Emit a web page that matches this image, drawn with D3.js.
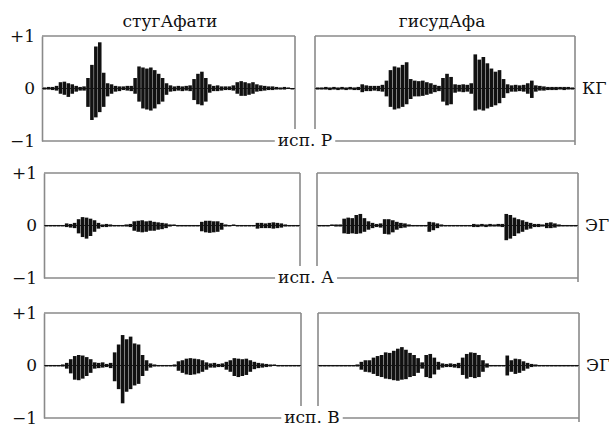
<!DOCTYPE html>
<html lang="ru">
<head>
<meta charset="utf-8">
<title>Осциллограммы</title>
<script src="https://d3js.org/d3.v7.min.js"></script>
<style>
  body { margin: 0; background: #fff; }
  text { font-family: "DejaVu Serif", "Liberation Serif", serif; fill: #111; }
</style>
</head>
<body>
<script>
// words, speakers, row tags
const words = ["стугАфати", "гисудАфа"];
const speakers = ["исп. Р", "исп. А", "исп. В"];
const tags = ["КГ", "ЭГ", "ЭГ"];
const tickVals = [-1, 0, 1];

// amplitude envelopes (upper / lower, as magnitudes), 64 samples per panel
const p1Up = [0.02,0.03,0.03,0.05,0.12,0.13,0.1,0.08,0.05,0.03,0.04,0.2,0.45,0.8,0.88,0.3,
  0.1,0.08,0.05,0.04,0.04,0.05,0.05,0.2,0.42,0.4,0.38,0.4,0.35,0.28,0.2,0.1,
  0.06,0.04,0.05,0.04,0.05,0.06,0.18,0.28,0.32,0.2,0.08,0.05,0.06,0.04,0.04,0.04,
  0.06,0.12,0.14,0.12,0.1,0.12,0.08,0.06,0.05,0.04,0.04,0.03,0.02,0.03,0.02,0.01];
const p1Dn = [0.02,0.02,0.03,0.04,0.1,0.12,0.16,0.1,0.06,0.04,0.04,0.35,0.6,0.55,0.45,0.35,
  0.15,0.1,0.06,0.05,0.03,0.04,0.05,0.1,0.25,0.38,0.4,0.42,0.38,0.3,0.25,0.12,
  0.06,0.05,0.04,0.05,0.04,0.05,0.22,0.3,0.32,0.25,0.08,0.05,0.05,0.04,0.03,0.03,
  0.04,0.1,0.14,0.14,0.12,0.1,0.06,0.05,0.04,0.03,0.03,0.02,0.02,0.02,0.01,0.01];

const p2Up = [0.02,0.02,0.03,0.02,0.03,0.02,0.03,0.02,0.03,0.02,0.03,0.08,0.06,0.05,0.05,0.05,
  0.07,0.15,0.35,0.42,0.4,0.45,0.5,0.18,0.15,0.14,0.15,0.12,0.1,0.07,0.05,0.2,
  0.28,0.22,0.08,0.07,0.08,0.07,0.1,0.65,0.55,0.6,0.48,0.38,0.32,0.35,0.18,0.08,
  0.06,0.07,0.06,0.07,0.1,0.15,0.06,0.05,0.04,0.03,0.03,0.03,0.03,0.03,0.03,0.02];
const p2Dn = [0.02,0.02,0.02,0.03,0.02,0.03,0.02,0.03,0.02,0.03,0.03,0.07,0.05,0.05,0.04,0.05,
  0.06,0.15,0.35,0.4,0.38,0.35,0.3,0.2,0.15,0.15,0.14,0.12,0.1,0.07,0.05,0.25,
  0.32,0.3,0.08,0.06,0.07,0.06,0.1,0.42,0.4,0.42,0.38,0.35,0.32,0.28,0.18,0.09,
  0.06,0.06,0.05,0.06,0.1,0.18,0.06,0.04,0.04,0.03,0.03,0.03,0.02,0.03,0.02,0.02];

const p3Up = [0.01,0.01,0.01,0.01,0.01,0.04,0.03,0.05,0.12,0.16,0.15,0.13,0.1,0.05,0.02,0.03,
  0.02,0.01,0.01,0.01,0.02,0.03,0.08,0.09,0.1,0.08,0.09,0.07,0.06,0.05,0.04,0.02,
  0.02,0.01,0.01,0.01,0.01,0.01,0.01,0.07,0.09,0.09,0.08,0.08,0.05,0.02,0.01,0.02,
  0.01,0.01,0.01,0.01,0.01,0.05,0.05,0.04,0.05,0.06,0.05,0.04,0.02,0.01,0.01,0.01];
const p3Dn = [0.01,0.01,0.01,0.01,0.01,0.03,0.04,0.05,0.15,0.22,0.25,0.2,0.12,0.06,0.03,0.03,
  0.02,0.01,0.01,0.01,0.02,0.03,0.1,0.12,0.13,0.12,0.1,0.1,0.08,0.07,0.05,0.02,
  0.01,0.01,0.01,0.01,0.01,0.01,0.01,0.11,0.13,0.14,0.13,0.12,0.08,0.02,0.01,0.01,
  0.01,0.01,0.01,0.01,0.01,0.06,0.05,0.05,0.05,0.06,0.05,0.04,0.02,0.01,0.01,0.01];

const p4Up = [0.01,0.01,0.01,0.02,0.02,0.02,0.13,0.15,0.14,0.2,0.22,0.14,0.08,0.05,0.03,0.04,
  0.12,0.12,0.1,0.07,0.05,0.04,0.02,0.01,0.01,0.01,0.01,0.07,0.06,0.04,0.02,0.01,
  0.01,0.01,0.01,0.01,0.01,0.01,0.03,0.02,0.03,0.02,0.03,0.02,0.03,0.03,0.22,0.2,
  0.15,0.12,0.1,0.07,0.05,0.03,0.03,0.02,0.05,0.06,0.04,0.02,0.01,0.01,0.01,0.01];
const p4Dn = [0.01,0.01,0.01,0.01,0.02,0.02,0.15,0.16,0.15,0.16,0.15,0.12,0.08,0.05,0.03,0.04,
  0.16,0.17,0.13,0.08,0.05,0.04,0.02,0.01,0.01,0.01,0.01,0.12,0.09,0.05,0.02,0.01,
  0.01,0.01,0.01,0.01,0.01,0.01,0.03,0.03,0.02,0.03,0.02,0.02,0.02,0.03,0.28,0.25,
  0.2,0.15,0.12,0.08,0.06,0.03,0.03,0.02,0.05,0.05,0.04,0.02,0.01,0.01,0.01,0.01];

const p5Up = [0.01,0.01,0.01,0.01,0.02,0.05,0.12,0.18,0.2,0.19,0.16,0.12,0.06,0.05,0.06,0.03,
  0.05,0.25,0.4,0.58,0.5,0.55,0.42,0.4,0.2,0.1,0.04,0.02,0.01,0.01,0.01,0.01,
  0.02,0.08,0.1,0.13,0.14,0.13,0.12,0.1,0.06,0.04,0.05,0.03,0.04,0.07,0.1,0.14,
  0.13,0.12,0.13,0.1,0.07,0.05,0.04,0.03,0.02,0.02,0.01,0.01,0.01,0.01,0.01,0.01];
const p5Dn = [0.01,0.01,0.01,0.01,0.02,0.06,0.15,0.27,0.28,0.25,0.2,0.14,0.06,0.05,0.04,0.03,
  0.05,0.3,0.45,0.72,0.5,0.45,0.38,0.35,0.2,0.1,0.04,0.02,0.01,0.01,0.01,0.01,
  0.02,0.1,0.14,0.17,0.18,0.17,0.15,0.12,0.08,0.04,0.04,0.03,0.03,0.08,0.12,0.2,
  0.22,0.2,0.18,0.12,0.07,0.05,0.04,0.03,0.02,0.01,0.01,0.01,0.01,0.01,0.01,0.01];

const p6Up = [0.01,0.01,0.01,0.01,0.01,0.01,0.01,0.01,0.01,0.02,0.07,0.1,0.1,0.15,0.18,0.2,
  0.25,0.24,0.28,0.32,0.35,0.3,0.24,0.2,0.14,0.06,0.2,0.22,0.15,0.07,0.04,0.03,
  0.04,0.03,0.05,0.15,0.22,0.25,0.24,0.2,0.1,0.04,0.01,0.01,0.01,0.01,0.19,0.1,
  0.13,0.12,0.08,0.05,0.03,0.02,0.01,0.01,0.01,0.01,0.01,0.01,0.01,0.01,0.01,0.01];
const p6Dn = [0.01,0.01,0.01,0.01,0.01,0.01,0.01,0.01,0.01,0.02,0.08,0.12,0.13,0.16,0.2,0.22,
  0.25,0.26,0.28,0.29,0.27,0.26,0.22,0.2,0.14,0.06,0.22,0.24,0.17,0.08,0.04,0.03,
  0.03,0.04,0.05,0.18,0.25,0.22,0.24,0.22,0.12,0.04,0.01,0.01,0.01,0.01,0.19,0.12,
  0.16,0.14,0.1,0.06,0.03,0.02,0.01,0.01,0.01,0.01,0.01,0.01,0.01,0.01,0.01,0.01];

const panels = [
  { row: 0, col: 0, up: p1Up, dn: p1Dn },
  { row: 0, col: 1, up: p2Up, dn: p2Dn },
  { row: 1, col: 0, up: p3Up, dn: p3Dn },
  { row: 1, col: 1, up: p4Up, dn: p4Dn },
  { row: 2, col: 0, up: p5Up, dn: p5Dn },
  { row: 2, col: 1, up: p6Up, dn: p6Dn }
];

// layout
const width = 609, height = 427;
const rowTop = [36, 173, 313];
const rowBot = [141, 278, 418];
const panelX = [
  [[42, 295], [315, 575]],
  [[44, 300], [317, 578]],
  [[44, 301], [318, 579]]
];
const labelX = [305, 306, 312];
const frameColor = "#8a8a8a";
const fontSize = 17;

const svg = d3.select("body").append("svg")
  .attr("width", width)
  .attr("height", height)
  .style("background", "#fff");

// column titles
svg.selectAll("text.word")
  .data(words)
  .enter()
  .append("text")
  .attr("class", "word")
  .attr("x", (d, i) => i === 0 ? 170 : 442)
  .attr("y", 27)
  .attr("text-anchor", "middle")
  .style("font-size", fontSize + "px")
  .text(d => d);

rowTop.forEach((top, r) => {
  const bot = rowBot[r];
  const y = d3.scaleLinear().domain([-1, 1]).range([bot, top]);
  const [L, R] = panelX[r];

  // left axis (its domain line is the left frame)
  const axis = d3.axisLeft(y)
    .tickValues(tickVals)
    .tickSize(0)
    .tickPadding(7)
    .tickFormat(d => d > 0 ? "+1" : d < 0 ? "\u22121" : "0");
  const g = svg.append("g")
    .attr("transform", `translate(${L[0]},0)`)
    .call(axis);
  g.select(".domain").attr("stroke", frameColor).attr("stroke-width", 1.6);
  g.selectAll("text")
    .style("font-family", "'DejaVu Serif', serif")
    .style("font-size", fontSize + "px")
    .attr("fill", "#111")
    .attr("dy", "0.3em");

  // frame pieces
  const lines = [
    [L[0], top, L[1], top],
    [L[1], top, L[1], bot - 12],
    [R[0], top, R[1], top],
    [R[0], top, R[0], bot - 12],
    [R[1], top, R[1], bot + 4]
  ];
  svg.selectAll(null)
    .data(lines)
    .enter()
    .append("line")
    .attr("x1", d => d[0]).attr("y1", d => d[1])
    .attr("x2", d => d[2]).attr("y2", d => d[3])
    .attr("stroke", frameColor)
    .attr("stroke-width", 1.6);

  // speaker label on the bottom line
  const lab = svg.append("text")
    .attr("x", labelX[r])
    .attr("y", bot)
    .attr("dy", "0.28em")
    .attr("text-anchor", "middle")
    .style("font-size", fontSize + "px")
    .text(speakers[r]);
  const bb = lab.node().getBBox();
  svg.append("line")
    .attr("x1", L[0]).attr("x2", bb.x - 3)
    .attr("y1", bot).attr("y2", bot)
    .attr("stroke", frameColor).attr("stroke-width", 1.6);
  svg.append("line")
    .attr("x1", bb.x + bb.width + 3).attr("x2", R[1])
    .attr("y1", bot).attr("y2", bot)
    .attr("stroke", frameColor).attr("stroke-width", 1.6);

  // row tag on the right
  svg.append("text")
    .attr("x", R[1] + 7)
    .attr("y", y(0))
    .attr("dy", "0.33em")
    .style("font-size", fontSize + "px")
    .text(tags[r]);
});

// waveforms
panels.forEach(p => {
  const y = d3.scaleLinear().domain([-1, 1]).range([rowBot[p.row], rowTop[p.row]]);
  const [x0, x1] = panelX[p.row][p.col];
  const x = d3.scaleBand()
    .domain(d3.range(p.up.length))
    .range([x0 + 1, x1 - 1])
    .paddingInner(0.1);

  const g = svg.append("g");
  g.append("line")
    .attr("x1", x0).attr("x2", x1)
    .attr("y1", y(0)).attr("y2", y(0))
    .attr("stroke", "#333")
    .attr("stroke-width", 1);

  g.selectAll("rect")
    .data(p.up.map((u, i) => ({ i: i, up: u, dn: p.dn[i] })))
    .enter()
    .append("rect")
    .attr("x", d => x(d.i))
    .attr("width", x.bandwidth())
    .attr("y", d => y(d.up))
    .attr("height", d => Math.max(1.5, y(-d.dn) - y(d.up)))
    .attr("fill", "#111");
});
</script>
</body>
</html>
